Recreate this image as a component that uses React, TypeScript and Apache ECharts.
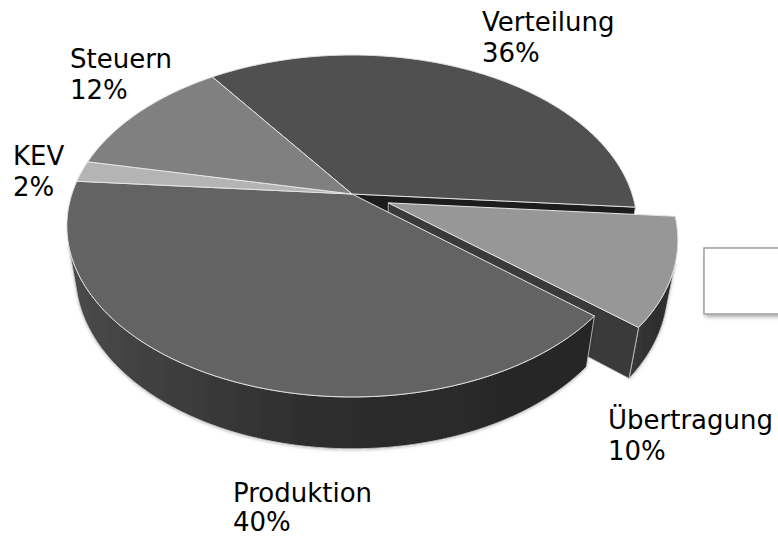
import React, { useEffect, useRef } from 'react';
import * as echarts from 'echarts';

// ---- data ----
const categories = ['Verteilung', 'Übertragung', 'Produktion', 'KEV', 'Steuern'];
const shares = [36, 10, 40, 2, 12];
const exploded = [false, true, false, false, false];

// ---- styles / layout ----
const TOP_COLORS = ['#505050', '#979797', '#636363', '#b4b4b4', '#808080'];
const SIDE_GRADIENTS = [
  ['#2a2a2a', '#1c1c1c', '#1c1c1c'],
  ['#3a3a3a', '#303030', '#2c2c2c'],
  ['#4a4a4a', '#2e2e2e', '#252525'],
  ['#8a8a8a', '#707070', '#6a6a6a'],
  ['#5a5a5a', '#4a4a4a', '#444444'],
];
const FACE_COLORS = ['#1c1c1c', '#3a3a3a', '#2a2a2a', '#888888', '#555555'];
// [x, y, lineHeight]
const LABEL_POS = [
  [482, 6, 31],
  [608, 404, 31],
  [233, 478, 29],
  [13, 140, 31],
  [70, 43, 31],
];

// projection parameters (3D pie seen from above with perspective)
const CX = 352;
const CY = 194;
const F = 1210;
const L = 4.32;
const SIN_A = 0.589;
const COS_A = 0.808;
const H = 0.22;
const START_DEG = -125.1;
const EXPLODE = 0.139;
const RAD = Math.PI / 180;

function proj(x: number, y: number, z: number): number[] {
  const dep = L - (y * SIN_A + z * COS_A);
  const v = y * COS_A - z * SIN_A;
  return [CX + (F * x) / dep, CY - (F * v) / dep];
}

function renderItem(params: any, api: any) {
  const i = params.dataIndex;
  const total = shares.reduce((a, b) => a + b, 0);
  let cum = 0;
  for (let k = 0; k < i; k++) cum += shares[k];
  const val = api.value(0);
  const a0 = START_DEG + (360 * cum) / total;
  const a1 = a0 + (360 * val) / total;
  const mid = ((a0 + a1) / 2) * RAD;
  const e = exploded[i] ? EXPLODE : 0;
  const ox = e * Math.cos(mid);
  const oz = e * Math.sin(mid);
  const n = Math.max(2, Math.ceil((a1 - a0) / 0.5));
  const camZ = L * COS_A;
  const children: any[] = [];
  const wallZ = exploded[i] ? 1 : 2;
  const faceZ = exploded[i] ? 1 : 0;

  // top face
  const topPts: number[][] = [proj(ox, 0, oz)];
  for (let s = 0; s <= n; s++) {
    const t = (a0 + ((a1 - a0) * s) / n) * RAD;
    topPts.push(proj(ox + Math.cos(t), 0, oz + Math.sin(t)));
  }
  children.push({
    type: 'polygon',
    shape: { points: topPts },
    style: { fill: TOP_COLORS[i], stroke: '#e4e4e4', lineWidth: 1 },
    z2: 10,
  });

  // outer wall (visible runs only)
  const runs: number[][] = [];
  let cur: number[] | null = null;
  for (let s = 0; s <= n; s++) {
    const deg = a0 + ((a1 - a0) * s) / n;
    const t = deg * RAD;
    const px = ox + Math.cos(t);
    const pz = oz + Math.sin(t);
    const dot = -px * Math.cos(t) + (camZ - pz) * Math.sin(t);
    if (dot > 0) {
      if (!cur) {
        cur = [];
        runs.push(cur);
      }
      cur.push(deg);
    } else {
      cur = null;
    }
  }
  const g = SIDE_GRADIENTS[i];
  runs.forEach((run) => {
    if (run.length < 2) return;
    const top = run.map((d) => proj(ox + Math.cos(d * RAD), 0, oz + Math.sin(d * RAD)));
    const bot = run.map((d) => proj(ox + Math.cos(d * RAD), -H, oz + Math.sin(d * RAD))).reverse();
    children.push({
      type: 'polygon',
      shape: { points: top.concat(bot) },
      style: {
        fill: new echarts.graphic.LinearGradient(0, 0, 1, 0, [
          { offset: 0, color: g[0] },
          { offset: 0.45, color: g[1] },
          { offset: 1, color: g[2] },
        ]),
        stroke: '#c8c8c8',
        lineWidth: 0.8,
        shadowBlur: 3,
        shadowColor: 'rgba(0,0,0,0.25)',
        shadowOffsetY: 1,
      },
      z2: wallZ,
    });
  });

  // radial faces next to an exploded slice
  const nPrev = (i - 1 + shares.length) % shares.length;
  const nNext = (i + 1) % shares.length;
  const faces: { ang: number; sign: number; show: boolean }[] = [
    { ang: a0, sign: 1, show: exploded[i] || exploded[nPrev] },
    { ang: a1, sign: -1, show: exploded[i] || exploded[nNext] },
  ];
  faces.forEach((f) => {
    if (!f.show) return;
    const t = f.ang * RAD;
    const nx = f.sign * Math.sin(t);
    const nz = -f.sign * Math.cos(t);
    const dot = (0 - ox) * nx + (camZ - oz) * nz;
    if (dot <= 0) return;
    const pts = [
      proj(ox, 0, oz),
      proj(ox + Math.cos(t), 0, oz + Math.sin(t)),
      proj(ox + Math.cos(t), -H, oz + Math.sin(t)),
      proj(ox, -H, oz),
    ];
    children.push({
      type: 'polygon',
      shape: { points: pts },
      style: { fill: FACE_COLORS[i], stroke: '#c8c8c8', lineWidth: 0.8 },
      z2: faceZ,
    });
  });

  // label
  const pct = Math.round((val / total) * 100);
  children.push({
    type: 'text',
    x: LABEL_POS[i][0],
    y: LABEL_POS[i][1],
    style: {
      text: categories[i] + '\n' + pct + '%',
      fill: '#000000',
      fontSize: 26,
      fontFamily: 'DejaVu Sans',
      lineHeight: LABEL_POS[i][2],
      align: 'left',
      verticalAlign: 'top',
    },
    z2: 20,
  });

  return { type: 'group', children };
}

export default function App() {
  const ref = useRef<HTMLDivElement>(null);
  useEffect(() => {
    if (!ref.current) return;
    const chart = echarts.init(ref.current, undefined, { renderer: 'svg' });
    chart.setOption({
      animation: false,
      backgroundColor: '#ffffff',
      graphic: [
        {
          type: 'rect',
          shape: { x: 704, y: 248, width: 100, height: 66 },
          style: {
            fill: '#ffffff',
            stroke: '#a0a0a0',
            lineWidth: 1.5,
            shadowBlur: 4,
            shadowOffsetX: 2,
            shadowOffsetY: 2,
            shadowColor: 'rgba(0,0,0,0.35)',
          },
          z: 5,
        },
      ],
      series: [
        {
          type: 'custom',
          coordinateSystem: 'none',
          silent: true,
          renderItem,
          data: shares.map((v, idx) => ({ name: categories[idx], value: v })),
        },
      ],
    });
    return () => chart.dispose();
  }, []);
  return (
    <div
      ref={ref}
      style={{ position: 'fixed', left: 0, top: 0, width: 778, height: 536 }}
    />
  );
}
